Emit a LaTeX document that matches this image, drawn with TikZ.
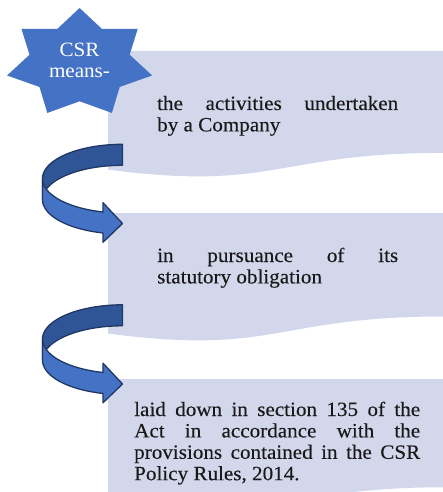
\documentclass[tikz,border=0pt]{standalone}
\usepackage{fontspec}
\setmainfont{Liberation Serif}[FakeStretch=1.04, FakeBold=0.15]
\newfontfamily\lightserif{Liberation Serif}[FakeStretch=1.04]

\definecolor{boxfill}{RGB}{211,215,236}
\definecolor{starblue}{RGB}{68,114,196}
\definecolor{bandlight}{RGB}{68,114,196}
\definecolor{banddark}{RGB}{47,85,151}
\definecolor{bandline}{RGB}{33,56,100}

\tikzset{
  docbox/.style={fill=boxfill},
  starshape/.style={fill=starblue},
  bandback/.style={fill=banddark, draw=bandline, line width=1.3pt, line join=round},
  bandfront/.style={fill=bandlight, draw=bandline, line width=1.3pt, line join=round},
  bodytext/.style={inner sep=0pt, anchor=base west, text=black!90, font=\fontsize{20.3pt}{21.4pt}\selectfont},
  startext/.style={inner sep=0pt, anchor=base, text=white, font=\lightserif\fontsize{20.3pt}{21pt}\selectfont},
}

% one fully justified line of the given width
\newcommand{\jline}[2]{\makebox[#1][s]{#2}\par}

% curved ribbon arrow pointing right; #1 = top of its bounding box
\newcommand{\ribbonarrow}[1]{%
  \pgfmathsetmacro{\ya}{#1+34.35}%
  \pgfmathsetmacro{\yb}{#1+55.35}%
  % back half of the ribbon
  \path[bandback]
    plot[domain=180:270, samples=40, variable=\t] ({122.5+80*cos(\t)},{\ya+34.35*sin(\t)})
    -- plot[domain=270:180, samples=40, variable=\t] ({122.5+80*cos(\t)},{\yb+34.35*sin(\t)})
    -- cycle;
  % front half with the arrow head
  \path[bandfront]
    plot[domain=180:104.11, samples=40, variable=\t] ({122.5+80*cos(\t)},{\ya+34.35*sin(\t)})
    -- (103,{#1+58.36}) -- (122.5,{#1+79.2}) -- (103,{#1+97.96})
    -- plot[domain=104.11:180, samples=40, variable=\t] ({122.5+80*cos(\t)},{\yb+34.35*sin(\t)})
    -- cycle;
}

\begin{document}
\begin{tikzpicture}[x=1pt, y=-1pt]
  \useasboundingbox (0,0) rectangle (443,492);
  \clip (0,0) rectangle (443,492);

  % document-shaped panels
  \fill[docbox] (108,51) -- (443,51) -- (443,152.9)
    .. controls (275.5,152.9) and (275.5,191.6) .. (108,169.6) -- cycle;
  \fill[docbox] (108,213) -- (443,213) -- (443,316.5)
    .. controls (275.5,316.5) and (275.5,355.8) .. (108,333.5) -- cycle;
  \fill[docbox] (108,379) -- (443,379) -- (443,487.3)
    .. controls (275.5,487.3) and (275.5,528.4) .. (108,505.1) -- cycle;

  % seven-pointed star
  \path[starshape]
    plot[samples at={0,...,13}, variable=\i]
      ({79.6+(1-0.31*mod(\i,2))*74.4*cos(90-\i*360/14)},
       {63.2-(1-0.31*mod(\i,2))*55.2*sin(90-\i*360/14)})
    -- cycle;
  \node[startext] (csr) at (79.5,57)
    {\parbox[t]{100pt}{\centering CSR\par means-}};

  % panel texts
  \node[bodytext] (first) at (157,110)
    {\parbox[t]{241pt}{\jline{241pt}{the activities undertaken}by a Company}};
  \node[bodytext] (second) at (157,262)
    {\parbox[t]{241pt}{\jline{241pt}{in pursuance of its}statutory obligation}};
  \node[bodytext] (third) at (134,416)
    {\parbox[t]{286pt}{\jline{286pt}{laid down in section 135 of the}%
      \jline{286pt}{Act in accordance with the}%
      \jline{286pt}{provisions contained in the CSR}Policy Rules, 2014.}};

  % curved arrows between the panels
  \ribbonarrow{144.3}
  \ribbonarrow{304.8}
\end{tikzpicture}
\end{document}
